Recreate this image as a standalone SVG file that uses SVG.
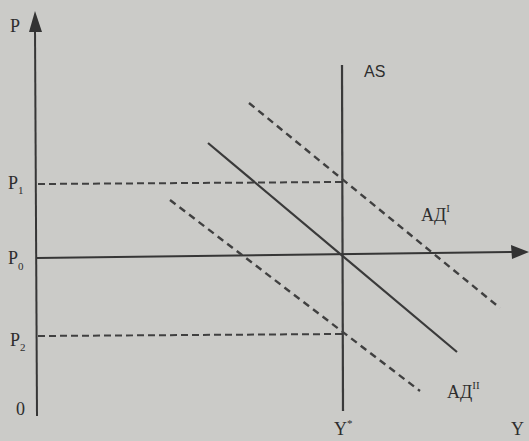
<svg xmlns="http://www.w3.org/2000/svg" width="529" height="441" viewBox="0 0 529 441">
<style>
.ax{stroke:#363636;stroke-width:2;fill:none}
.ln{stroke:#3a3a3a;stroke-width:2.2;fill:none}
.ds{stroke:#404040;stroke-width:2.4;fill:none;stroke-dasharray:7 5}
.hd{stroke:#404040;stroke-width:2;fill:none;stroke-dasharray:7 4}
text{font-family:"Liberation Serif","DejaVu Serif",serif;fill:#2e2e2e;font-size:18px}
.sb{font-size:11px}
</style>
<rect width="529" height="441" fill="#cbcbc8"/>
<g id="axes">
<path class="ax" d="M35,28 L37,416"/>
<polygon points="35,11 29,32 42,32" fill="#333"/>
<path class="ax" d="M37,258 L514,252"/>
<polygon points="529,252 511,245 512,259" fill="#333"/>
</g>
<g id="connectors">
<path class="hd" d="M38,184 L342,182"/>
<path class="hd" d="M38,336 L342,334"/>
</g>
<g id="AS">
<path class="ln" d="M342,65 L343,411"/>
<text x="364" y="77" style="font-family:'Liberation Sans',sans-serif;font-size:16px">AS</text>
</g>
<g id="AD">
<path class="ln" d="M208,143 L457,352"/>
</g>
<g id="AD1">
<path class="ds" d="M249,103 L500,308"/>
<text x="421" y="221">АД<tspan class="sb" dy="-9">I</tspan></text>
</g>
<g id="AD2">
<path class="ds" d="M170,200 L420,391"/>
<text x="447" y="398">АД<tspan class="sb" dy="-9">II</tspan></text>
</g>
<g id="labels">
<text x="10" y="32">P</text>
<text x="8" y="189">P<tspan class="sb" dy="5">1</tspan></text>
<text x="8" y="264">P<tspan class="sb" dy="6">0</tspan></text>
<text x="10" y="346">P<tspan class="sb" dy="5">2</tspan></text>
<text x="16" y="415">0</text>
<text x="334" y="435">Y<tspan class="sb" dy="-8">*</tspan></text>
<text x="511" y="435">Y</text>
</g>
</svg>
